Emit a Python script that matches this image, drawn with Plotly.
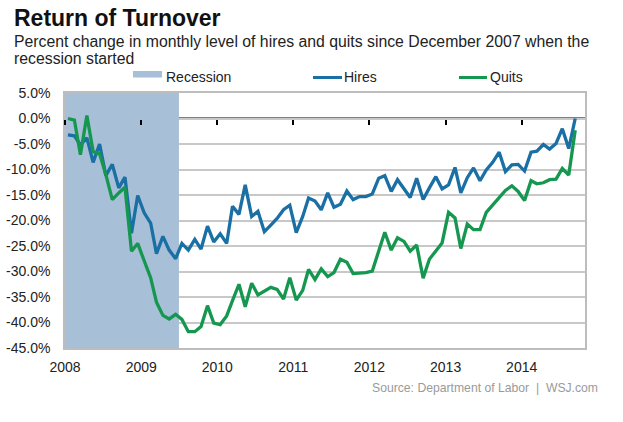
import pandas as pd
import plotly.graph_objects as go

# ---------------- data ----------------
months = pd.period_range("2008-01", "2014-09", freq="M")

hires = [
    -3.2, -3.4, -5.2, -3.8, -8.6, -5.0, -11.2, -9.0, -13.6, -11.5,
    -22.5, -15.1, -18.5, -20.5, -26.5, -23.1, -25.8, -27.5, -24.5, -25.8,
    -23.7, -25.6, -21.1, -24.2, -22.6, -24.5, -17.2, -18.8, -13.0, -19.2,
    -18.2, -22.2, -20.9, -19.6, -17.9, -17.0, -22.4, -19.2, -15.6, -16.2,
    -17.9, -14.6, -17.4, -16.8, -14.2, -15.9, -15.3, -15.3, -14.8, -11.7,
    -11.2, -14.3, -12.0, -13.7, -15.5, -11.7, -15.9, -13.6, -11.4, -13.8,
    -13.0, -9.6, -14.6, -11.6, -9.7, -12.2, -10.1, -8.6, -6.6, -10.4,
    -9.1, -9.0, -10.3, -6.6, -6.4, -5.1, -6.0, -4.9, -2.0, -5.9,
    0.0,
]

quits = [
    0.0, -0.3, -7.1, 0.6, -6.5, -6.9, -11.0, -15.9, -14.6, -13.5,
    -26.0, -24.5, -27.9, -31.2, -36.0, -38.6, -39.3, -38.4, -39.4, -41.8,
    -41.8, -40.8, -36.7, -40.1, -40.4, -38.7, -35.7, -32.5, -36.9, -32.3,
    -34.6, -33.9, -33.1, -33.5, -35.4, -31.2, -35.6, -33.7, -29.6, -31.6,
    -29.5, -31.0, -30.2, -27.6, -28.2, -30.4, -30.3, -30.2, -29.9, -25.8,
    -22.3, -25.8, -23.4, -24.1, -26.0, -24.8, -31.3, -27.6, -25.9, -24.4,
    -18.4, -19.5, -25.5, -20.7, -21.8, -21.8, -18.4, -17.0, -15.5, -14.1,
    -13.2, -14.3, -16.1, -12.2, -12.8, -12.6, -12.0, -11.9, -9.8, -11.1,
    -2.3,
]

recession_start = "2008-01-01"
recession_end = "2009-07-01"

y_tick_vals = [5, 0, -5, -10, -15, -20, -25, -30, -35, -40, -45]
y_tick_text = ["5.0%", "0.0%", "-5.0%", "-10.0%", "-15.0%", "-20.0%",
               "-25.0%", "-30.0%", "-35.0%", "-40.0%", "-45.0%"]
x_tick_vals = ["2008-01-01", "2009-01-01", "2010-01-01", "2011-01-01",
               "2012-01-01", "2013-01-01", "2014-01-01"]
x_tick_text = ["2008", "2009", "2010", "2011", "2012", "2013", "2014"]
x_range = ["2008-01-01", "2014-11-01"]
y_range = [-45, 5]

# mid-month positions
x_dates = [p.to_timestamp() + pd.Timedelta(days=14) for p in months]

# ---------------- style ----------------
BLUE = "#1a6fa5"
GREEN = "#15974f"
REC = "#a8bfd8"
FONT = "Liberation Sans, Arial, sans-serif"

W, H = 623, 422
L, R, T, B = 65, 38, 93, 74
PL, PR, PT, PB = L, W - R, T, H - B


def px_x(x):
    return (x - PL) / (PR - PL)


def px_y(y):
    return (PB - y) / (PB - PT)


fig = go.Figure()

fig.add_trace(go.Scatter(x=x_dates, y=hires, mode="lines", name="Hires",
                         line=dict(color=BLUE, width=3.3), showlegend=False))
fig.add_trace(go.Scatter(x=x_dates, y=quits, mode="lines", name="Quits",
                         line=dict(color=GREEN, width=3.3), showlegend=False))
# empty trace to carry the zero-line tick axis
fig.add_trace(go.Scatter(x=[], y=[], xaxis="x2", yaxis="y", showlegend=False,
                         hoverinfo="skip"))

shapes = [
    dict(type="rect", xref="x", yref="y", x0=recession_start, x1=recession_end,
         y0=y_range[0], y1=y_range[1], fillcolor=REC, line=dict(width=0),
         layer="between"),
    dict(type="line", xref="paper", yref="y", x0=0, x1=1, y0=0, y1=0,
         line=dict(color="black", width=2), layer="between"),
    # legend swatches
    dict(type="rect", xref="paper", yref="paper", x0=px_x(133), x1=px_x(162),
         y0=px_y(77.5), y1=px_y(71), fillcolor=REC, line=dict(width=0)),
    dict(type="line", xref="paper", yref="paper", x0=px_x(313), x1=px_x(342),
         y0=px_y(77.5), y1=px_y(77.5), line=dict(color=BLUE, width=3)),
    dict(type="line", xref="paper", yref="paper", x0=px_x(459), x1=px_x(487),
         y0=px_y(77.5), y1=px_y(77.5), line=dict(color=GREEN, width=3)),
]

annotations = [
    dict(text="<b>Return of Turnover</b>", x=px_x(12), y=px_y(18),
         font=dict(size=23, color="#111111", family=FONT)),
    dict(text="Percent change in monthly level of hires and quits since December 2007 when the",
         x=px_x(12), y=px_y(41.5), font=dict(size=15.8, color="#222222", family=FONT)),
    dict(text="recession started", x=px_x(12), y=px_y(58),
         font=dict(size=15.8, color="#222222", family=FONT)),
    dict(text="Recession", x=px_x(164), y=px_y(77),
         font=dict(size=14, color="#222222", family=FONT)),
    dict(text="Hires", x=px_x(342), y=px_y(77),
         font=dict(size=14, color="#222222", family=FONT)),
    dict(text="Quits", x=px_x(488), y=px_y(77),
         font=dict(size=14, color="#222222", family=FONT)),
]
for a in annotations:
    a.update(xref="paper", yref="paper", xanchor="left", yanchor="middle",
             showarrow=False)
annotations.append(dict(text="Source: Department of Labor  |  WSJ.com",
                        xref="paper", yref="paper", x=px_x(600), y=px_y(388),
                        xanchor="right", yanchor="middle", showarrow=False,
                        font=dict(size=12.2, color="#9a9a9a", family=FONT)))

fig.update_layout(
    width=W, height=H,
    margin=dict(l=L, r=R, t=T, b=B, autoexpand=False),
    paper_bgcolor="white", plot_bgcolor="white",
    font=dict(family=FONT, size=14, color="#222222"),
    shapes=shapes, annotations=annotations,
    showlegend=False,
    xaxis=dict(type="date", range=x_range, tickvals=x_tick_vals,
               ticktext=x_tick_text, showgrid=False, zeroline=False,
               showline=True, linecolor="#bdbdbd", linewidth=1.5, mirror=True,
               ticks="", ticklabelstandoff=5, automargin=False,
               tickfont=dict(size=14, color="#222222")),
    xaxis2=dict(type="date", range=x_range, overlaying="x", anchor="free",
                position=(0 - y_range[0]) / (y_range[1] - y_range[0]),
                matches="x", tickvals=x_tick_vals, showticklabels=False,
                ticks="outside", ticklen=5, tickwidth=2, tickcolor="black",
                showgrid=False, zeroline=False, showline=False,
                automargin=False),
    yaxis=dict(range=y_range, tickvals=y_tick_vals, ticktext=y_tick_text,
               showgrid=True, gridcolor="#c8c8c8", gridwidth=1.6,
               zeroline=False, showline=True, linecolor="#bdbdbd",
               linewidth=1.5, mirror=True, ticks="", ticklabelstandoff=10,
               automargin=False, tickfont=dict(size=14, color="#222222")),
)

fig.write_html("out.html",
               config={"displayModeBar": False},
               post_script="document.body.style.margin='0';"
                           "document.body.style.padding='0';")
